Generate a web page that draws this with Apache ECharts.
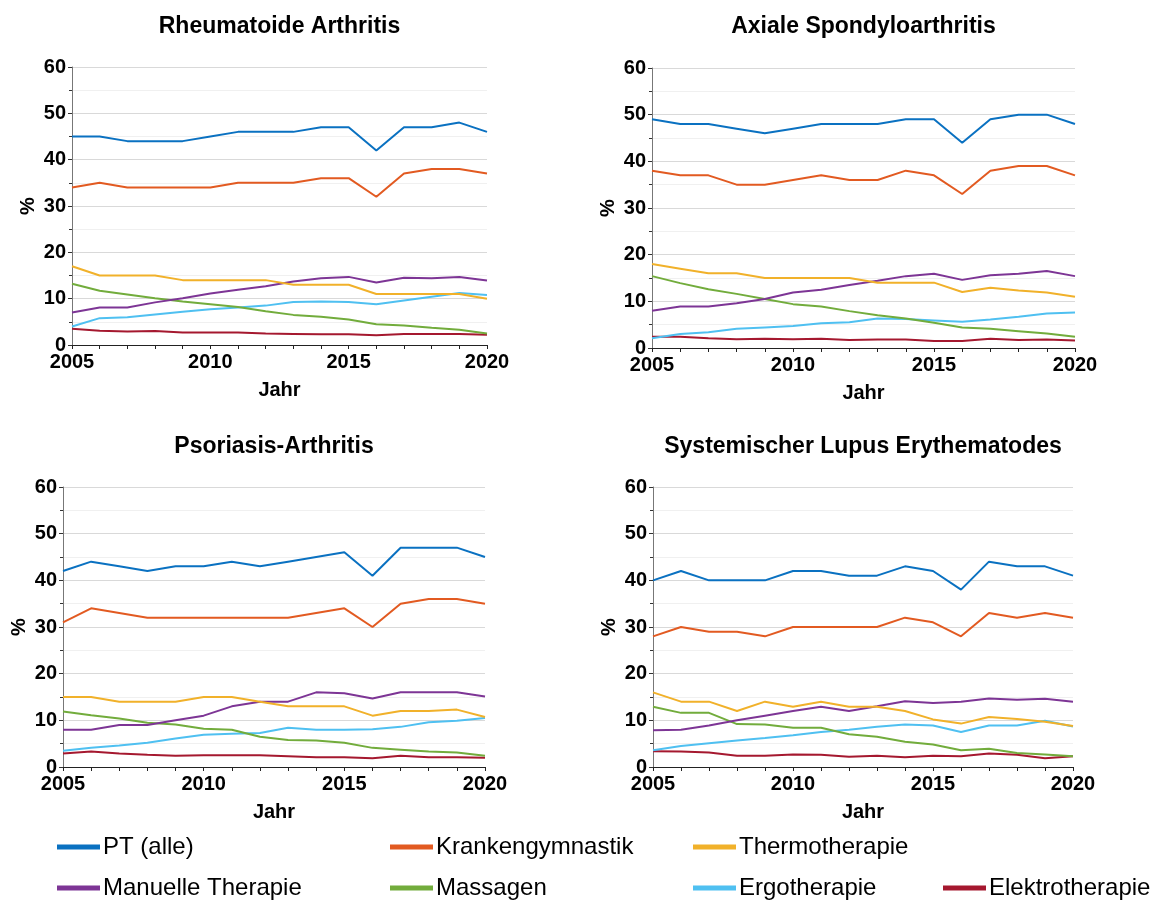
<!DOCTYPE html>
<html>
<head>
<meta charset="utf-8">
<script src="https://cdn.jsdelivr.net/npm/echarts@6/dist/echarts.min.js"></script>
<style>
  html, body { margin: 0; padding: 0; background: #fff; }
  #chart { width: 1157px; height: 903px; }
</style>
</head>
<body>
<div id="chart"></div>
<script>
const years = [2005, 2006, 2007, 2008, 2009, 2010, 2011, 2012, 2013, 2014, 2015, 2016, 2017, 2018, 2019, 2020];
const panelTitles = ["Rheumatoide Arthritis", "Axiale Spondyloarthritis", "Psoriasis-Arthritis", "Systemischer Lupus Erythematodes"];
const seriesNames = ["PT (alle)", "Krankengymnastik", "Thermotherapie", "Manuelle Therapie", "Massagen", "Ergotherapie", "Elektrotherapie"];
const yTicks = [0, 10, 20, 30, 40, 50, 60];

// Rheumatoide Arthritis
const raPT = [45, 45, 44, 44, 44, 45, 46, 46, 46, 47, 47, 42, 47, 47, 48, 46];
const raKG = [34, 35, 34, 34, 34, 34, 35, 35, 35, 36, 36, 32, 37, 38, 38, 37];
const raThermo = [17, 15, 15, 15, 14, 14, 14, 14, 13, 13, 13, 11, 11, 11, 11, 10];
const raManuell = [7.0, 8.1, 8.1, 9.2, 10.1, 11.1, 11.9, 12.7, 13.7, 14.4, 14.7, 13.5, 14.5, 14.4, 14.7, 13.9];
const raMassage = [13.2, 11.7, 10.9, 10.1, 9.4, 8.8, 8.2, 7.3, 6.5, 6.1, 5.5, 4.5, 4.2, 3.7, 3.3, 2.5];
const raErgo = [4.0, 5.8, 6.0, 6.6, 7.2, 7.7, 8.1, 8.5, 9.3, 9.4, 9.3, 8.8, 9.6, 10.4, 11.2, 10.8];
const raElektro = [3.5, 3.1, 2.9, 3.0, 2.7, 2.7, 2.7, 2.5, 2.4, 2.3, 2.3, 2.1, 2.4, 2.4, 2.4, 2.2];

// Axiale Spondyloarthritis
const asPT = [49, 48, 48, 47, 46, 47, 48, 48, 48, 49, 49, 44, 49, 50, 50, 48];
const asKG = [38, 37, 37, 35, 35, 36, 37, 36, 36, 38, 37, 33, 38, 39, 39, 37];
const asThermo = [18, 17, 16, 16, 15, 15, 15, 15, 14, 14, 14, 12, 12.9, 12.3, 11.9, 11];
const asManuell = [8, 8.9, 8.9, 9.6, 10.5, 11.9, 12.5, 13.5, 14.4, 15.4, 15.9, 14.6, 15.6, 15.9, 16.5, 15.4];
const asMassage = [15.4, 13.9, 12.6, 11.6, 10.5, 9.4, 8.9, 7.9, 7.0, 6.3, 5.4, 4.4, 4.1, 3.6, 3.1, 2.4];
const asErgo = [2.1, 3.0, 3.4, 4.1, 4.4, 4.7, 5.3, 5.5, 6.3, 6.2, 5.9, 5.6, 6.1, 6.7, 7.4, 7.6];
const asElektro = [2.4, 2.4, 2.1, 1.9, 2.0, 1.9, 2.0, 1.7, 1.8, 1.8, 1.5, 1.5, 2.0, 1.7, 1.8, 1.6];

// Psoriasis-Arthritis
const psPT = [42, 44, 43, 42, 43, 43, 44, 43, 44, 45, 46, 41, 47, 47, 47, 45];
const psKG = [31, 34, 33, 32, 32, 32, 32, 32, 32, 33, 34, 30, 35, 36, 36, 35];
const psThermo = [15, 15, 14, 14, 14, 15, 15, 14, 13, 13, 13, 11, 12, 12, 12.3, 10.7];
const psManuell = [8, 8, 9, 9, 10, 11, 13, 14, 14, 16, 15.8, 14.7, 16, 16, 16, 15.1];
const psMassage = [11.9, 11.1, 10.4, 9.5, 9.1, 8.2, 8.0, 6.5, 5.8, 5.7, 5.2, 4.1, 3.7, 3.3, 3.1, 2.4];
const psErgo = [3.5, 4.1, 4.6, 5.2, 6.1, 6.9, 7.1, 7.3, 8.4, 8.0, 8.0, 8.1, 8.6, 9.6, 9.9, 10.5];
const psElektro = [2.9, 3.3, 2.9, 2.6, 2.4, 2.5, 2.5, 2.5, 2.3, 2.1, 2.1, 1.9, 2.4, 2.1, 2.1, 2.0];

// Systemischer Lupus Erythematodes
const slPT = [40, 42, 40, 40, 40, 42, 42, 41, 41, 43, 42, 38, 44, 43, 43, 41];
const slKG = [28, 30, 29, 29, 28, 30, 30, 30, 30, 32, 31, 28, 33, 32, 33, 32];
const slThermo = [16, 14, 14, 12, 14, 12.9, 14, 12.9, 12.9, 12, 10.2, 9.3, 10.7, 10.3, 9.7, 8.8];
const slManuell = [7.9, 8, 8.9, 10, 11, 12, 12.9, 12, 13, 14.1, 13.7, 14, 14.7, 14.4, 14.6, 14];
const slMassage = [12.9, 11.6, 11.6, 9.2, 9.1, 8.4, 8.4, 7.0, 6.5, 5.4, 4.8, 3.6, 3.9, 3.0, 2.7, 2.3];
const slErgo = [3.6, 4.5, 5.1, 5.7, 6.2, 6.8, 7.5, 8.0, 8.6, 9.1, 8.9, 7.5, 8.9, 8.9, 9.9, 8.7];
const slElektro = [3.4, 3.3, 3.1, 2.4, 2.4, 2.7, 2.6, 2.2, 2.4, 2.1, 2.4, 2.3, 2.9, 2.6, 1.9, 2.3];

const panelData = [
  [raPT, raKG, raThermo, raManuell, raMassage, raErgo, raElektro],
  [asPT, asKG, asThermo, asManuell, asMassage, asErgo, asElektro],
  [psPT, psKG, psThermo, psManuell, psMassage, psErgo, psElektro],
  [slPT, slKG, slThermo, slManuell, slMassage, slErgo, slElektro]
];

const colors = ["#0a71c1", "#e25a21", "#f1b12a", "#7d3595", "#72ac3c", "#4fc0f1", "#a5182f"];
const font = "'Liberation Sans', Arial, sans-serif";

// plot areas
const grids = [
  { left: 72, top: 67, width: 415, height: 278 },
  { left: 652, top: 68, width: 423, height: 280 },
  { left: 63, top: 487, width: 422, height: 280 },
  { left: 653, top: 487, width: 420, height: 280 }
];

const chart = echarts.init(document.getElementById("chart"));

const titles = panelTitles.map((t, i) => ({
  text: t,
  left: grids[i].left + grids[i].width / 2,
  top: i < 2 ? 15 : 435,
  textAlign: "center",
  padding: 0,
  textStyle: { fontFamily: font, fontWeight: "bold", fontSize: 23, color: "#000" }
}));

const xAxes = grids.map((g, i) => ({
  type: "value",
  gridIndex: i,
  min: 2005,
  max: 2020,
  interval: 5,
  name: "Jahr",
  nameLocation: "middle",
  nameGap: 35,
  nameTextStyle: { fontFamily: font, fontWeight: "bold", fontSize: 20, color: "#000" },
  axisLine: { show: true, lineStyle: { color: "#222", width: 1 } },
  axisTick: { show: true, length: 4, lineStyle: { color: "#222" } },
  minorTick: { show: true, splitNumber: 5, length: 4, lineStyle: { color: "#222" } },
  splitLine: { show: false },
  axisLabel: {
    fontFamily: font, fontWeight: "bold", fontSize: 20, color: "#000", margin: 7,
    formatter: v => String(v)
  }
}));

const yAxes = grids.map((g, i) => ({
  type: "value",
  gridIndex: i,
  min: yTicks[0],
  max: yTicks[yTicks.length - 1],
  interval: 10,
  name: "%",
  nameLocation: "middle",
  nameGap: 34,
  nameTextStyle: { fontFamily: font, fontWeight: "bold", fontSize: 20, color: "#000" },
  axisLine: { show: true, lineStyle: { color: "#777", width: 1 } },
  axisTick: { show: true, length: 4, lineStyle: { color: "#333" } },
  minorTick: { show: true, splitNumber: 2, length: 3, lineStyle: { color: "#333" } },
  splitLine: { show: true, lineStyle: { color: "#d9d9d9", width: 1 } },
  minorSplitLine: { show: true, lineStyle: { color: "#f0f0f0", width: 1 } },
  axisLabel: { fontFamily: font, fontWeight: "bold", fontSize: 20, color: "#000", margin: 6 }
}));

const series = [];
panelData.forEach((rows, p) => {
  rows.forEach((vals, s) => {
    series.push({
      name: seriesNames[s],
      type: "line",
      xAxisIndex: p,
      yAxisIndex: p,
      data: years.map((y, k) => [y, vals[k]]),
      showSymbol: false,
      symbol: "none",
      z: 10 - s,
      lineStyle: { color: colors[s], width: 2 },
      itemStyle: { color: colors[s] }
    });
  });
});

// legend items placed like the original two-row layout
const legendPos = [
  [57, 835], [390, 835], [693, 835],
  [57, 876], [390, 876], [693, 876], [943, 876]
];
const legends = seriesNames.map((n, i) => ({
  data: [n],
  left: legendPos[i][0],
  top: legendPos[i][1],
  padding: 0,
  icon: "rect",
  itemWidth: 43,
  itemHeight: 5,
  selectedMode: false,
  textStyle: { fontFamily: font, fontSize: 24, color: "#000", padding: [0, 0, 0, -2] }
}));

chart.setOption({
  backgroundColor: "#fff",
  animation: false,
  title: titles,
  legend: legends,
  grid: grids.map(g => Object.assign({ outerBoundsMode: "none" }, g)),
  xAxis: xAxes,
  yAxis: yAxes,
  series: series
});
</script>
</body>
</html>
